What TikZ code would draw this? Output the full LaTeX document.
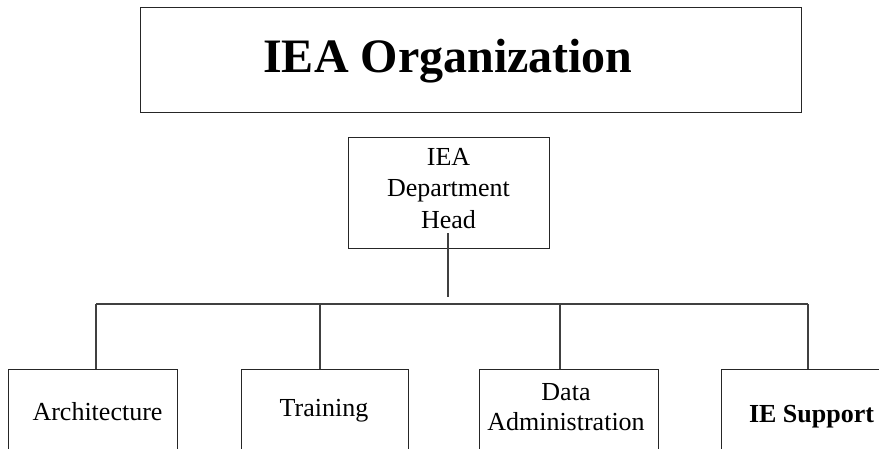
\documentclass[tikz,border=0pt]{standalone}
\usepackage{fontspec}
\setmainfont{Liberation Serif}
\begin{document}
\begin{tikzpicture}[x=1pt,y=-1pt,
  boxline/.style={draw=black!85,line width=1.3pt},
  unitbox/.style={boxline,rectangle,inner sep=0pt,anchor=north west},
  txt/.style={inner sep=0pt,font=\fontsize{26}{30}\selectfont},
  conn/.style={draw=black!75,line width=1.3pt}]
\useasboundingbox (0,0) rectangle (879,448);
\clip (0,0) rectangle (879,448);
% title
\node[unitbox,minimum width=661pt,minimum height=105pt] (titlebox) at (140,7) {};
\node[inner sep=0pt,anchor=base,font=\fontsize{48}{56}\selectfont\bfseries] (titletext) at (448,72) {IEA Organization};
% department head
\node[unitbox,minimum width=201pt,minimum height=111pt] (head) at (348,137) {};
\node[txt,anchor=north,align=center,font=\fontsize{26}{31.5}\selectfont] (headtext) at (448.5,148) {IEA\\Department\\Head};
% units
\node[unitbox,minimum width=169pt,minimum height=100pt] (arch) at (8,369) {};
\node[unitbox,minimum width=167pt,minimum height=100pt] (train) at (241,369) {};
\node[unitbox,minimum width=179pt,minimum height=100pt] (data) at (479,369) {};
\node[unitbox,minimum width=181pt,minimum height=100pt] (supp) at (721,369) {};
\node[txt,anchor=base] (archtext) at (97.5,420) {Architecture};
\node[txt,anchor=base] (traintext) at (324,416) {Training};
\node[txt,anchor=north,align=center] (datatext) at (566,382.8) {Data\\Administration};
\node[txt,anchor=base,font=\fontsize{26}{30}\selectfont\bfseries] (supptext) at (811.5,422) {IE Support};
% connectors
\coordinate (hj) at (448,304);
\coordinate (b1) at (96,304);
\coordinate (b2) at (320,304);
\coordinate (b3) at (560,304);
\coordinate (b4) at (808,304);
\draw[conn] ([yshift=16pt]head.south -| hj) -- ([yshift=7pt]hj);
\draw[conn] (b1) -- (b4);
\draw[conn] (b1) -- (b1 |- arch.north);
\draw[conn] (b2) -- (b2 |- train.north);
\draw[conn] (b3) -- (b3 |- data.north);
\draw[conn] (b4) -- (b4 |- supp.north);
\end{tikzpicture}
\end{document}
